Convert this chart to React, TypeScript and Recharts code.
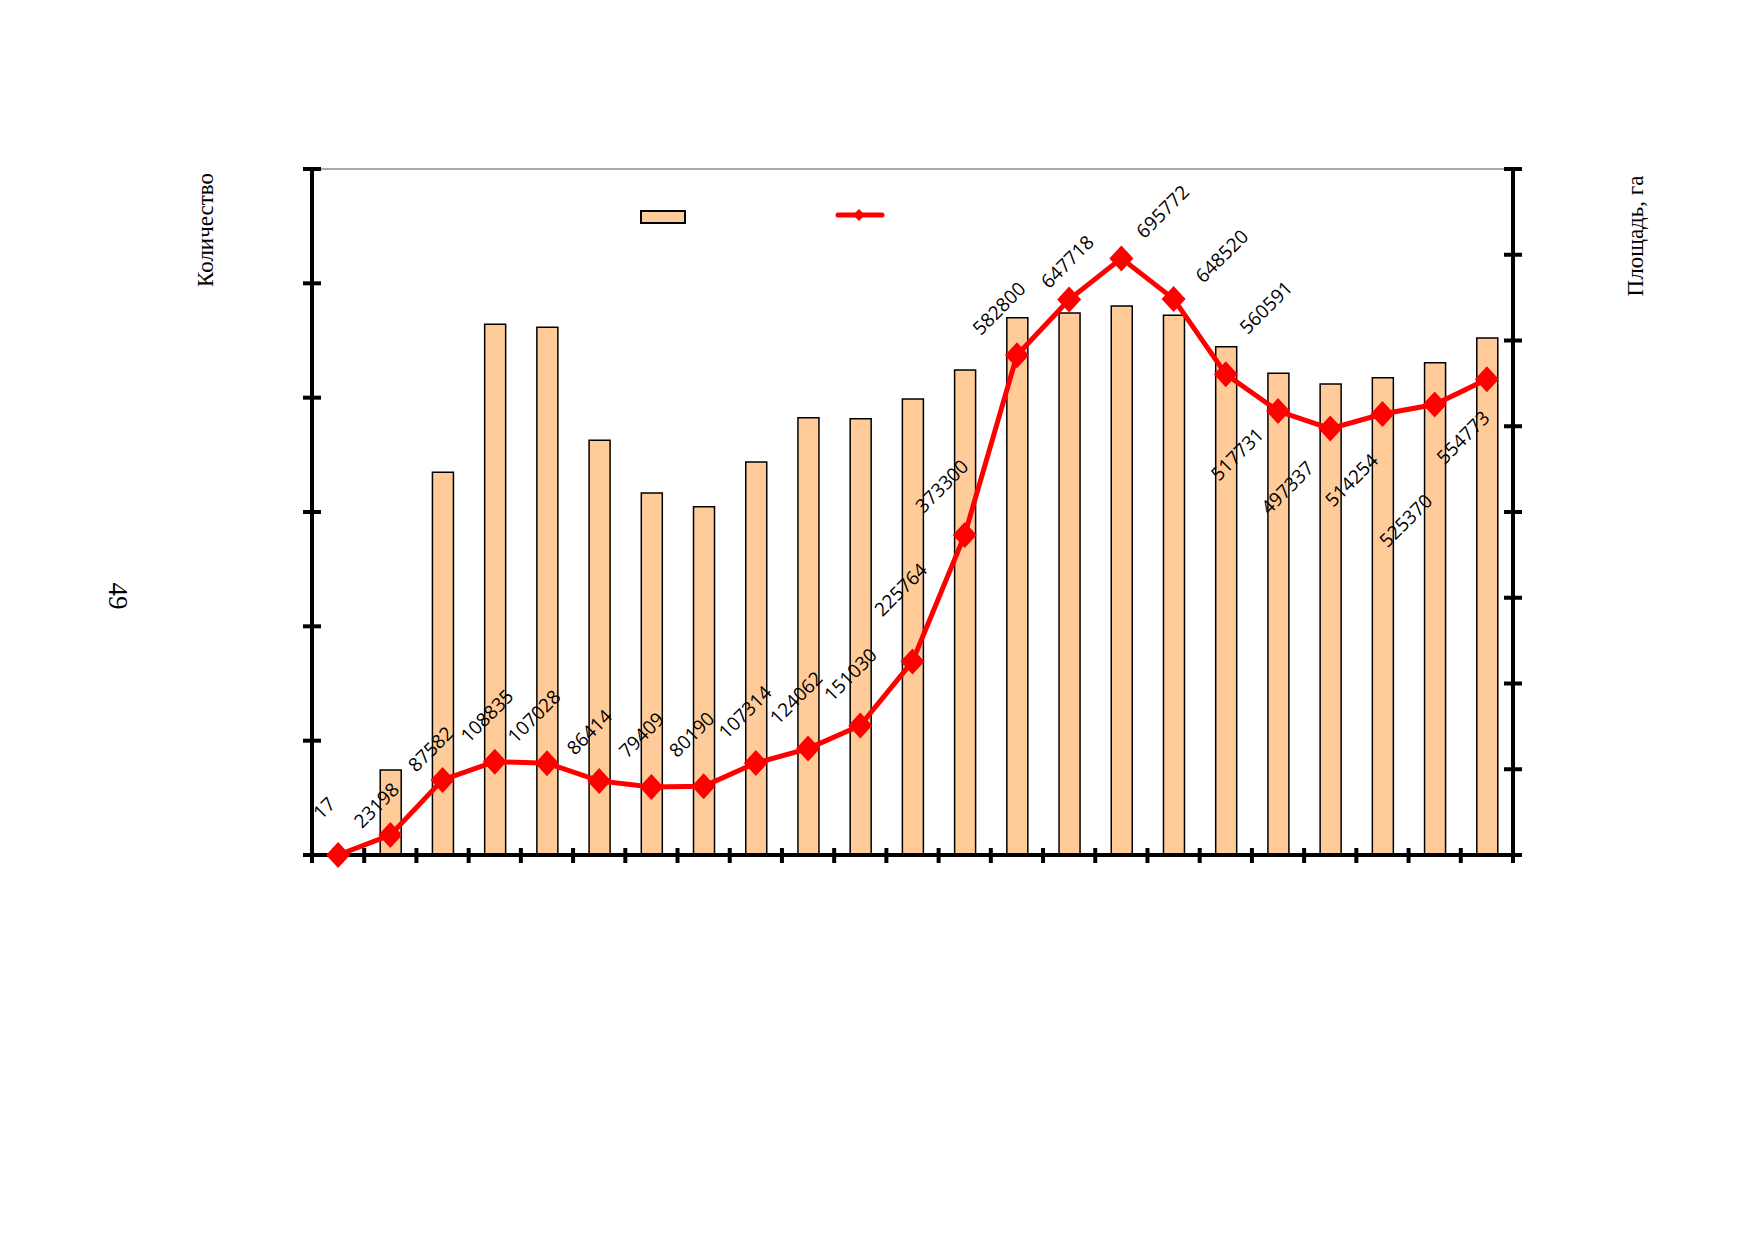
import React from 'react';
import {
  ComposedChart,
  Bar,
  Line,
  XAxis,
  YAxis,
  Legend,
  LabelList,
  ReferenceLine
} from 'recharts';

// categories are not labelled in the source, just 23 consecutive periods
const CATEGORIES = ['1', '2', '3', '4', '5', '6', '7', '8', '9', '10', '11', '12',
  '13', '14', '15', '16', '17', '18', '19', '20', '21', '22', '23'];

// left axis: Количество (bars)
const COUNT = [0, 743, 3347, 4642, 4615, 3627, 3166, 3046, 3437, 3825, 3816, 3988,
  4242, 4700, 4740, 4802, 4720, 4446, 4213, 4120, 4175, 4306, 4522];

// right axis: Площадь, га (line)
const AREA = [17, 23198, 87582, 108835, 107028, 86414, 79409, 80190, 107314, 124062,
  151030, 225764, 373300, 582800, 647718, 695772, 648520, 560591, 517731, 497337,
  514254, 525370, 554773];

const LEFT_TICKS = [0, 1000, 2000, 3000, 4000, 5000, 6000];
const RIGHT_TICKS = [0, 100000, 200000, 300000, 400000, 500000, 600000, 700000, 800000];

const DATA = CATEGORIES.map((name, i) => ({ name, count: COUNT[i], area: AREA[i] }));

// hand-placed label offsets (centre of rotated text relative to the point)
const LABEL_OFFSETS: [number, number][] = [
  [-14, -47], [-14, -30], [-12, -31], [-8, -46], [-13, -47], [-10, -49],
  [-10, -52], [-12, -52], [-11, -51], [-12, -51], [-10, -51], [-12, -72],
  [-23, -49], [-18, -47], [-2, -38], [41, -47], [48, -43], [40, -67],
  [-41, 43], [-43, 59], [-31, 66], [-29, 116], [-24, 58]
];

const BAR_FILL = '#FFCC99';
const LINE_RED = '#FF0000';

const YTick = (props: any) => {
  const { x, y } = props;
  return <line x1={x - 9} x2={x + 9} y1={y} y2={y} stroke="#000" strokeWidth={4} />;
};

const XTick = (props: any) => {
  const { x, y, payload, index } = props;
  const half = payload && payload.offset ? payload.offset : 1201 / 23 / 2;
  const last = index === CATEGORIES.length - 1;
  return (
    <g>
      <line x1={x - half} x2={x - half} y1={y - 7} y2={y + 8} stroke="#000" strokeWidth={4} />
      {last && (
        <line x1={x + half} x2={x + half} y1={y - 7} y2={y + 8} stroke="#000" strokeWidth={4} />
      )}
    </g>
  );
};

const Diamond = (props: any) => {
  const { cx, cy, index } = props;
  if (cx == null || cy == null) return null;
  return (
    <polygon
      key={`dot-${index}`}
      points={`${cx},${cy - 13} ${cx + 12},${cy} ${cx},${cy + 13} ${cx - 12},${cy}`}
      fill={LINE_RED}
    />
  );
};

const AreaLabel = (props: any) => {
  const { x, y, value, index } = props;
  const [dx, dy] = LABEL_OFFSETS[index] || [0, -40];
  const cx = x + dx;
  const cy = y + dy;
  return (
    <text
      x={cx}
      y={cy}
      transform={`rotate(-45 ${cx} ${cy})`}
      textAnchor="middle"
      dominantBaseline="central"
      fontFamily="Open Sans, sans-serif"
      fontSize={19}
      fill="#000"
    >
      {value}
    </text>
  );
};

const LegendSwatches = () => (
  <div style={{ position: 'relative', width: 260, height: 20 }}>
    <div
      style={{
        position: 'absolute',
        left: 2,
        top: 2,
        width: 42,
        height: 10,
        border: '2px solid #000',
        background: BAR_FILL
      }}
    />
    <svg style={{ position: 'absolute', left: 197, top: 0 }} width={52} height={20}>
      <line x1={3} x2={47} y1={7} y2={7} stroke={LINE_RED} strokeWidth={5} strokeLinecap="round" />
      <polygon points="24,1 30,7 24,13 18,7" fill={LINE_RED} />
    </svg>
  </div>
);

export default function App() {
  return (
    <div style={{ position: 'absolute', left: 0, top: 0, width: 1754, height: 1239, background: '#fff' }}>
      <ComposedChart
        width={1754}
        height={1239}
        data={DATA}
        margin={{ top: 169, right: 181, bottom: 354, left: 252 }}
        barCategoryGap={0}
      >
        <XAxis
          dataKey="name"
          height={30}
          tickSize={0}
          tickMargin={0}
          interval={0}
          tick={<XTick />}
          axisLine={{ stroke: '#000', strokeWidth: 4 }}
          tickLine={false}
        />
        <YAxis
          yAxisId="left"
          orientation="left"
          width={60}
          domain={[0, 6000]}
          ticks={LEFT_TICKS}
          tickSize={0}
          tickMargin={0}
          tick={<YTick />}
          tickLine={false}
          axisLine={{ stroke: '#000', strokeWidth: 4 }}
        />
        <YAxis
          yAxisId="right"
          orientation="right"
          width={60}
          domain={[0, 800000]}
          ticks={RIGHT_TICKS}
          tickSize={0}
          tickMargin={0}
          tick={<YTick />}
          tickLine={false}
          axisLine={{ stroke: '#000', strokeWidth: 4 }}
        />
        <ReferenceLine yAxisId="left" y={6000} stroke="#8c8c8c" strokeWidth={1.5} />
        <Legend
          verticalAlign="middle"
          align="center"
          wrapperStyle={{ top: 208, left: 638, width: 260, height: 20 }}
          content={() => <LegendSwatches />}
        />
        <Bar
          yAxisId="left"
          dataKey="count"
          barSize={21}
          fill={BAR_FILL}
          stroke="#000"
          strokeWidth={1.5}
          isAnimationActive={false}
        />
        <Line
          yAxisId="right"
          dataKey="area"
          type="linear"
          stroke={LINE_RED}
          strokeWidth={5}
          dot={<Diamond />}
          activeDot={false}
          isAnimationActive={false}
        >
          <LabelList dataKey="area" content={<AreaLabel />} />
        </Line>
      </ComposedChart>

      {/* axis titles and page number */}
      <svg
        width={1754}
        height={1239}
        style={{ position: 'absolute', left: 0, top: 0, pointerEvents: 'none' }}
      >
        <text
          x={205}
          y={230}
          transform="rotate(-90 205 230)"
          textAnchor="middle"
          dominantBaseline="central"
          fontFamily="Liberation Serif, serif"
          fontSize={23}
          fill="#000"
        >
          Количество
        </text>
        <text
          x={1635}
          y={236}
          transform="rotate(-90 1635 236)"
          textAnchor="middle"
          dominantBaseline="central"
          fontFamily="Liberation Serif, serif"
          fontSize={23}
          fill="#000"
        >
          Площадь, га
        </text>
        <text
          x={118}
          y={596}
          transform="rotate(90 118 596)"
          textAnchor="middle"
          dominantBaseline="central"
          fontFamily="Liberation Serif, serif"
          fontSize={27}
          fill="#000"
        >
          49
        </text>
      </svg>
    </div>
  );
}
